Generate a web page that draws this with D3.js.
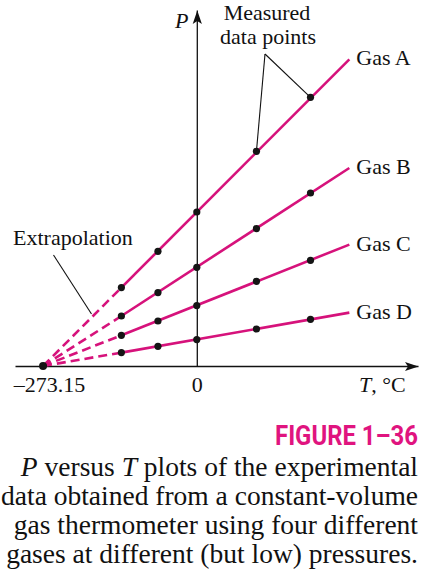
<!DOCTYPE html>
<html><head><meta charset="utf-8">
<script src="https://cdn.jsdelivr.net/npm/d3@7"></script>
<style>html,body{margin:0;padding:0;background:#fff;} svg{display:block;}</style>
</head><body>
<script>
// ---- data (P in arbitrary units, T in °C) ----
const gasNames = ["Gas A", "Gas B", "Gas C", "Gas D"];
const measuredT = [-134, -69, 0, 106, 202];
const gasA = [7.84, 11.47, 15.40, 21.47, 26.87];
const gasB = [5.00, 7.34, 9.87, 13.74, 17.30];
const gasC = [3.07, 4.50, 6.04, 8.47, 10.57];
const gasD = [1.34, 1.97, 2.64, 3.70, 4.67];
const fitEndT = 271;
const fitEndP = [30.67, 19.80, 12.14, 5.34];
const absoluteZeroT = -273.15;
const xTickValues = [-273.15, 0];
const xTickLabels = ["\u2013273.15", "0"];
const captionTitle = "FIGURE 1\u201336";
const captionLines = [
  [["P", true], [" versus ", false], ["T", true], [" plots of the experimental", false]],
  [["data obtained from a constant-volume", false]],
  [["gas thermometer using four different", false]],
  [["gases at different (but low) pressures.", false]]
];

const W = 421, H = 581;
const MAG = "#d6127b", FIGMAG = "#e0147f";
const serif = "'Liberation Serif','Times New Roman',Times,serif";

const svg = d3.select("body").append("svg").attr("width", W).attr("height", H)
  .style("font-family", serif);
svg.append("rect").attr("width", W).attr("height", H).attr("fill", "#fff");

const x = d3.scaleLinear().domain([-323, 393]).range([15, 418]);
const y = d3.scaleLinear().domain([0, 35.6]).range([366, 10]);

// arrow marker
const defs = svg.append("defs");
defs.append("marker").attr("id", "arrow")
  .attr("viewBox", "-14 -6 15 12").attr("refX", 0).attr("refY", 0)
  .attr("markerWidth", 15).attr("markerHeight", 12)
  .attr("markerUnits", "userSpaceOnUse").attr("orient", "auto")
  .append("path").attr("d", "M0,0L-13.5,-4.6L-10.5,0L-13.5,4.6Z").attr("fill", "#111");

// x axis
const xAxis = svg.append("g").attr("transform", `translate(0,${y(0)})`)
  .call(d3.axisBottom(x).tickValues(xTickValues).tickSize(0).tickSizeOuter(0)
    .tickFormat((d, i) => xTickLabels[i]));
xAxis.select(".domain").attr("stroke", "#111").attr("stroke-width", 1.3)
  .attr("marker-end", "url(#arrow)");
xAxis.selectAll(".tick text").attr("y", 26).attr("dy", null)
  .attr("font-family", serif).attr("font-size", 22).attr("fill", "#111")
  .attr("dx", (d, i) => i === 0 ? 6 : 0);

// y axis
const yAxis = svg.append("g").attr("transform", `translate(${x(0)},0)`)
  .call(d3.axisLeft(y).tickValues([]).tickSizeOuter(0));
yAxis.select(".domain").attr("stroke", "#111").attr("stroke-width", 1.3)
  .attr("marker-end", "url(#arrow)");

// axis titles
svg.append("text").attr("x", 175).attr("y", 28).attr("font-size", 22)
  .attr("font-style", "italic").attr("fill", "#111").text("P");
const tt = svg.append("text").attr("x", 359).attr("y", 392).attr("font-size", 22).attr("fill", "#111");
tt.append("tspan").attr("font-style", "italic").text("T");
tt.append("tspan").text(", \u00b0C");

// series
const series = [gasA, gasB, gasC, gasD].map((vals, i) => ({
  name: gasNames[i],
  pts: measuredT.map((t, j) => ({ t, p: vals[j] })),
  end: { t: fitEndT, p: fitEndP[i] }
}));
const line = d3.line().x(d => x(d.t)).y(d => y(d.p));

const g = svg.append("g");
series.forEach(s => {
  g.append("path").attr("d", line([{ t: absoluteZeroT, p: 0 }, s.pts[0]]))
    .attr("fill", "none").attr("stroke", MAG).attr("stroke-width", 2.6)
    .attr("stroke-dasharray", "9,5");
  g.append("path").attr("d", line([s.pts[0], s.end]))
    .attr("fill", "none").attr("stroke", MAG).attr("stroke-width", 2.6);
});

// leader lines (annotations)
const ann = svg.append("g").attr("stroke", "#111").attr("stroke-width", 1.1).attr("fill", "none");
const apex = [265, 54];
[3, 4].forEach(j => {
  ann.append("line").attr("x1", apex[0]).attr("y1", apex[1])
    .attr("x2", x(series[0].pts[j].t)).attr("y2", y(series[0].pts[j].p));
});
ann.append("line").attr("x1", 53.5).attr("y1", 255).attr("x2", 91.5).attr("y2", 314);

// dots
series.forEach(s => {
  g.selectAll(null).data(s.pts).join("circle")
    .attr("cx", d => x(d.t)).attr("cy", d => y(d.p)).attr("r", 3.6).attr("fill", "#151515");
});
svg.append("circle").attr("cx", x(absoluteZeroT)).attr("cy", y(0)).attr("r", 4).attr("fill", "#151515");

// gas labels
series.forEach(s => {
  svg.append("text").attr("x", x(s.end.t) + 7).attr("y", y(s.end.p)).attr("dy", 6)
    .attr("font-size", 22).attr("fill", "#111").text(s.name);
});

// annotation texts
svg.append("text").attr("x", 267).attr("y", 20).attr("text-anchor", "middle")
  .attr("font-size", 22).attr("fill", "#111").text("Measured");
svg.append("text").attr("x", 268).attr("y", 43.5).attr("text-anchor", "middle")
  .attr("font-size", 22).attr("fill", "#111").text("data points");
svg.append("text").attr("x", 13).attr("y", 245)
  .attr("font-size", 22).attr("fill", "#111").text("Extrapolation");

// caption title: fit a narrow bold sans into the reference width
const fig = svg.append("text").attr("x", 418).attr("y", 445).attr("text-anchor", "end")
  .attr("font-family", "'Liberation Sans Narrow','Roboto','Liberation Sans',sans-serif")
  .attr("font-weight", "bold").attr("font-size", 27).attr("fill", FIGMAG)
  .text(captionTitle);
const figW = fig.node().getComputedTextLength();
if (figW > 146) {
  fig.attr("transform", `translate(418,0) scale(${143 / figW},1) translate(-418,0)`);
}
captionLines.forEach((parts, i) => {
  const t = svg.append("text").attr("x", 418).attr("y", 476 + i * 29)
    .attr("text-anchor", "end").attr("font-size", 27.5).attr("fill", "#111");
  parts.forEach(([str, it]) => t.append("tspan").attr("font-style", it ? "italic" : null).text(str));
});
</script>
</body></html>
